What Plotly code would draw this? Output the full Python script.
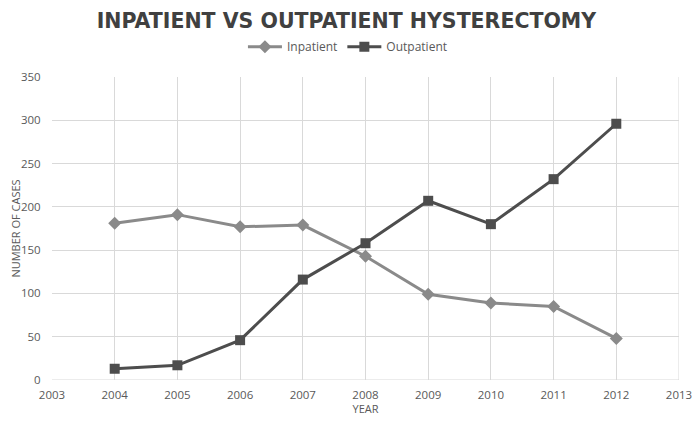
import plotly.graph_objects as go

# data
years = [2004, 2005, 2006, 2007, 2008, 2009, 2010, 2011, 2012]
inpatient = [181, 191, 177, 179, 143, 99, 89, 85, 48]
outpatient = [13, 17, 46, 116, 158, 207, 180, 232, 296]

TICK_FONT = dict(family="Open Sans", size=11.5, color="#595959")
AXIS_TITLE_FONT = dict(family="Open Sans", size=11, color="#595959")
GRID = "#d9d9d9"

trace_in = go.Scatter(
    x=years,
    y=inpatient,
    mode="lines+markers",
    name="Inpatient",
    line=dict(color="#8a8a8a", width=3),
    marker=dict(symbol="diamond", size=10, color="#8a8a8a"),
)

trace_out = go.Scatter(
    x=years,
    y=outpatient,
    mode="lines+markers",
    name="Outpatient",
    line=dict(color="#4d4d4d", width=3),
    marker=dict(symbol="square", size=10, color="#4d4d4d"),
)

# page body has an 8px margin, so the figure is kept inside the window
layout = go.Layout(
    width=692,
    height=408,
    paper_bgcolor="white",
    plot_bgcolor="white",
    margin=dict(l=44, r=21, t=69, b=36, autoexpand=False),
    title=dict(
        text="<b>INPATIENT VS OUTPATIENT HYSTERECTOMY</b>",
        font=dict(family="DejaVu Sans", size=20.5, color="#404040"),
        x=0.489,
        xanchor="center",
        y=0.985,
        yanchor="top",
        pad=dict(t=0),
    ),
    legend=dict(
        orientation="h",
        x=0.472,
        xanchor="center",
        y=1.1,
        yanchor="middle",
        font=dict(family="Open Sans", size=12, color="#595959"),
        itemwidth=34,
    ),
    xaxis=dict(
        range=[2003, 2013],
        dtick=1,
        tick0=2003,
        showgrid=True,
        gridcolor=GRID,
        zeroline=False,
        showline=False,
        ticks="outside",
        ticklen=4,
        tickcolor="rgba(0,0,0,0)",
        tickfont=TICK_FONT,
        automargin=False,
        title=dict(text="YEAR", font=AXIS_TITLE_FONT, standoff=0),
    ),
    yaxis=dict(
        range=[0, 350],
        dtick=50,
        showgrid=True,
        gridcolor=GRID,
        zeroline=False,
        showline=False,
        ticks="outside",
        ticklen=8,
        tickcolor="rgba(0,0,0,0)",
        tickfont=TICK_FONT,
        automargin=False,
        title=dict(text="NUMBER OF CASES", font=AXIS_TITLE_FONT, standoff=2),
    ),
)

fig = go.Figure(data=[trace_in, trace_out], layout=layout)
# right border of the plot area (2013 gridline) and baseline
fig.add_shape(type="line", xref="x", yref="paper", x0=2013, x1=2013, y0=0, y1=1,
              line=dict(color=GRID, width=1), layer="below")
fig.add_shape(type="line", xref="paper", yref="y", x0=0, x1=1, y0=0, y1=0,
              line=dict(color=GRID, width=1), layer="below")

fig.write_html("out.html")
